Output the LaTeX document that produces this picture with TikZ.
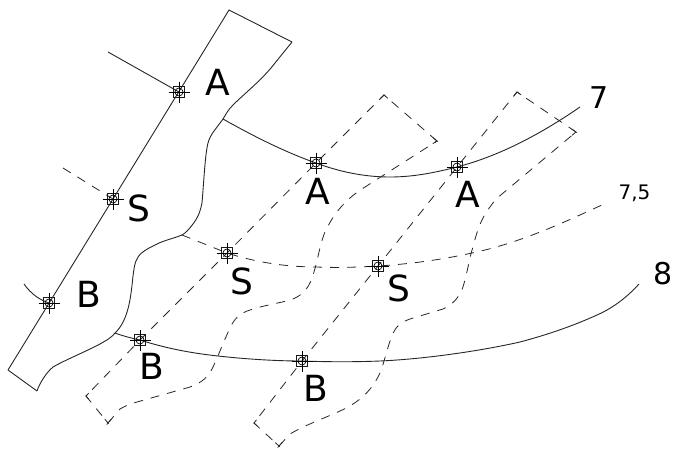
\documentclass[tikz,border=0pt]{standalone}
\usepackage{fontspec}
\setmainfont{DejaVu Sans}
\usetikzlibrary{calc}
\tikzset{
  x=1pt,y=-1pt,
  solidline/.style={line width=0.9pt,black!85},
  dashline/.style={line width=0.8pt,black!85,dash pattern=on 9pt off 8pt},
  big/.style={inner sep=0pt,font=\fontsize{36}{36}\selectfont},
  mid/.style={inner sep=0pt,font=\fontsize{30}{30}\selectfont},
  small/.style={inner sep=0pt,font=\fontsize{20}{20}\selectfont},
  mk/.pic={
    \draw[line width=1.2pt,black!90] (-5.5,-5.5) rectangle (5.5,5.5);
    \draw[line width=0.8pt] (-10.5,0) -- (10.5,0) (0,-10.5) -- (0,10.5);
    \draw[line width=0.7pt] (0,0) circle (4);
  }
}
\begin{document}
\begin{tikzpicture}
\useasboundingbox (0,0) rectangle (673,448);
% points on the bank
\coordinate (tl) at (229,10);
\coordinate (tr) at (292,42);
\coordinate (bl) at (8,370);
\coordinate (br) at (37,391);
\coordinate (a0) at (179,92);
\coordinate (s0) at (113,199);
\coordinate (b0) at (49,303);
\coordinate (j7) at (223,119);
\coordinate (j75) at (182,235);
\coordinate (j8) at (115,333);
% markers
\coordinate (a1) at (316,163);
\coordinate (a2) at (457,167);
\coordinate (s1) at (227,253);
\coordinate (s2) at (378,266);
\coordinate (b1) at (140,340);
\coordinate (b2) at (302,361);
% free ends
\coordinate (e7) at (580,107);
\coordinate (e75) at (604,204);
\coordinate (e8) at (639,284);
\coordinate (ua) at (108,52);
\coordinate (us) at (63,168);
\coordinate (ub) at (24,284);
% strip corners
\coordinate (p1) at (384,95);
\coordinate (p2) at (437,141);
\coordinate (p3) at (86,396);
\coordinate (p4) at (108,423);
\coordinate (q1) at (517,92);
\coordinate (q2) at (576,132);
\coordinate (q3) at (254,423);
\coordinate (q4) at (279,446);
% bank
\draw[solidline] (bl) -- (tl) -- (tr);
\draw[solidline] (bl) -- (br);
\draw[solidline] (tr) -- (275,63) .. controls (262,80) and (245,93) .. (233,105)
  .. controls (228,110) and (226,114) .. (j7)
  .. controls (215,130) and (210,135) .. (208,143)
  .. controls (205,155) and (204,180) .. (202,203)
  .. controls (200,213) and (197,219) .. (193,224)
  .. controls (189,229) and (186,233) .. (j75)
  .. controls (172,239) and (165,240) .. (157,244)
  .. controls (147,249) and (141,252) .. (138,257)
  .. controls (134,263) and (134,270) .. (133,276)
  .. controls (131,295) and (129,320) .. (j8)
  .. controls (110,339) and (105,341) .. (100,344)
  .. controls (85,352) and (65,360) .. (53,367)
  .. controls (47,372) and (40,382) .. (br);
% contours
\draw[solidline] (j7) .. controls (255,137) and (285,152) .. (a1)
  .. controls (340,172) and (365,177) .. (390,177)
  .. controls (415,177) and (437,172) .. (a2)
  .. controls (495,157) and (535,138) .. (e7);
\draw[dashline] (j75) .. controls (197,241) and (212,247) .. (s1)
  .. controls (255,262) and (285,267) .. (317,267)
  .. controls (340,268) and (360,267) .. (s2)
  .. controls (410,264) and (440,260) .. (472,253)
  .. controls (520,243) and (565,222) .. (e75);
\draw[solidline] (j8) .. controls (123,336) and (131,338) .. (b1)
  .. controls (165,348) and (190,353) .. (218,356)
  .. controls (245,359) and (275,361) .. (b2)
  .. controls (330,362) and (355,362) .. (380,361)
  .. controls (425,359) and (480,351) .. (520,342)
  .. controls (550,334) and (575,325) .. (597,315)
  .. controls (615,307) and (628,296) .. (e8);
% upstream
\draw[solidline] (ua) -- (a0);
\draw[dashline] (us) -- (s0);
\draw[solidline] (ub) .. controls (31,294) and (40,300) .. (b0);
% strips
\draw[dashline] (p2) -- (p1) -- (a1) -- (s1) -- (b1) -- (p3) -- (p4);
\draw[dashline] (p4) -- (120,409) .. controls (125,406) and (130,404) .. (137,402)
  -- (183,389) .. controls (195,386) and (203,382) .. (210,373)
  .. controls (216,362) and (222,345) .. (230,328)
  .. controls (234,319) and (240,313) .. (250,310)
  .. controls (265,305) and (280,303) .. (290,300)
  .. controls (300,297) and (308,290) .. (312,278)
  .. controls (318,262) and (320,240) .. (327,228)
  .. controls (335,212) and (347,198) .. (365,187) -- (p2);
\draw[dashline] (q2) -- (q1) -- (a2) -- (s2) -- (b2) -- (q3) -- (q4);
\draw[dashline] (q4) -- (290,434) .. controls (305,425) and (325,418) .. (340,411)
  .. controls (360,402) and (372,390) .. (380,373)
  .. controls (385,360) and (388,345) .. (392,336)
  .. controls (396,325) and (402,322) .. (410,319)
  -- (443,309) .. controls (452,305) and (459,298) .. (463,287)
  .. controls (468,270) and (470,255) .. (473,247)
  .. controls (477,230) and (483,215) .. (490,207)
  .. controls (494,201) and (497,198) .. (502,194) -- (q2);
% corner ticks
\draw[line width=0.8pt,black!85]
  ($(p1)!5pt!(p2)$) -- (p1) -- ($(p1)!5pt!(a1)$)
  ($(q1)!5pt!(q2)$) -- (q1) -- ($(q1)!5pt!(a2)$)
  ($(p2)!5pt!(p1)$) -- ($(p2)!-1pt!(p1)$) ($(p2)!5pt!(365,187)$) -- (p2)
  ($(q2)!5pt!(q1)$) -- ($(q2)!-1pt!(q1)$) ($(q2)!5pt!(502,194)$) -- (q2)
  ($(p3)!4pt!(p4)$) -- (p3) -- ($(p3)!4pt!(b1)$)
  ($(q3)!4pt!(q4)$) -- (q3) -- ($(q3)!4pt!(b2)$)
  ($(p4)!5pt!(p3)$) -- ($(p4)!-1pt!(p3)$) ($(p4)!5pt!(120,409)$) -- ($(p4)!-2pt!(120,409)$)
  ($(q4)!5pt!(q3)$) -- ($(q4)!-1pt!(q3)$) ($(q4)!5pt!(290,434)$) -- ($(q4)!-2pt!(290,434)$);
% markers
\foreach \m in {a0,s0,b0,a1,a2,s1,s2,b1,b2} \pic at (\m) {mk};
% labels
\node[big] (la0) at (218,82) {A};
\node[big] (ls0) at (138.5,208) {S};
\node[big] (lb0) at (89,294) {B};
\node[big] (la1) at (318,191) {A};
\node[big] (la2) at (468,194) {A};
\node[big] (ls1) at (242,281) {S};
\node[big] (ls2) at (398.5,288.5) {S};
\node[big] (lb1) at (152,366) {B};
\node[big] (lb2) at (316,388) {B};
\node[mid] (l7) at (599,97.5) {7};
\node[small] (l75) at (634.5,193) {7,5};
\node[mid] (l8) at (663,273.5) {8};
\end{tikzpicture}
\end{document}
